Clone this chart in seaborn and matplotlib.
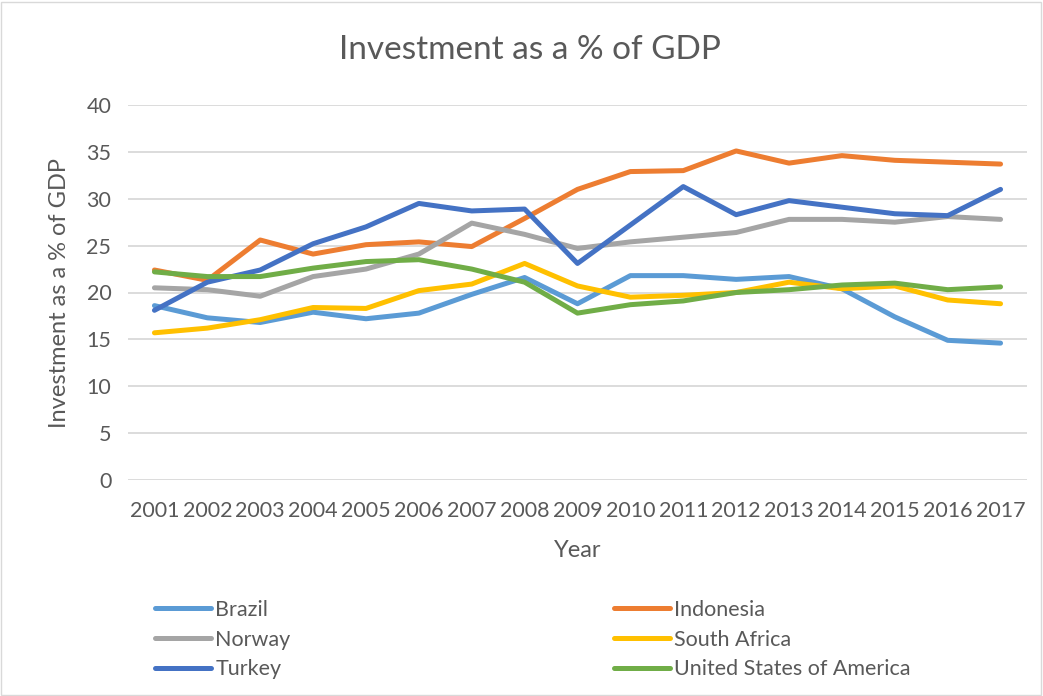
import matplotlib
matplotlib.use("Agg")
import matplotlib.pyplot as plt
import seaborn as sns
import pandas as pd
from matplotlib.lines import Line2D
from matplotlib.patches import Rectangle

years = list(range(2001, 2018))
brazil = [18.6, 17.3, 16.8, 17.9, 17.2, 17.8, 19.8, 21.6, 18.8, 21.8, 21.8, 21.4, 21.7, 20.4, 17.4, 14.9, 14.6]
indonesia = [22.4, 21.3, 25.6, 24.1, 25.1, 25.4, 24.9, 27.9, 31.0, 32.9, 33.0, 35.1, 33.8, 34.6, 34.1, 33.9, 33.7]
norway = [20.5, 20.3, 19.6, 21.7, 22.5, 24.1, 27.4, 26.2, 24.7, 25.4, 25.9, 26.4, 27.8, 27.8, 27.5, 28.1, 27.8]
south_africa = [15.7, 16.2, 17.1, 18.4, 18.3, 20.2, 20.9, 23.1, 20.7, 19.5, 19.7, 20.0, 21.1, 20.4, 20.7, 19.2, 18.8]
turkey = [18.1, 21.1, 22.4, 25.2, 27.0, 29.5, 28.7, 28.9, 23.1, 27.2, 31.3, 28.3, 29.8, 29.1, 28.4, 28.2, 31.0]
usa = [22.2, 21.7, 21.7, 22.6, 23.3, 23.5, 22.5, 21.1, 17.8, 18.7, 19.1, 20.0, 20.3, 20.8, 21.0, 20.3, 20.6]

countries = ["Brazil", "Indonesia", "Norway", "South Africa", "Turkey", "United States of America"]
series = [brazil, indonesia, norway, south_africa, turkey, usa]
colors = ["#5B9BD5", "#ED7D31", "#A5A5A5", "#FFC000", "#4472C4", "#70AD47"]

rows = []
for c, vals in zip(countries, series):
    for y, v in zip(years, vals):
        rows.append({"Year": y, "Value": v, "Country": c})
df = pd.DataFrame(rows)

sns.set_theme(style="white")
plt.rcParams["font.family"] = ["Lato", "DejaVu Sans"]
text_color = "#595959"

fig = plt.figure(figsize=(10.43, 6.96), dpi=100)
ax = fig.add_axes([128/1043, 1-480/696, (1027-128)/1043, (480-105)/696])

palette = dict(zip(countries, colors))
sns.lineplot(data=df, x="Year", y="Value", hue="Country", palette=palette,
             linewidth=3.6, ax=ax, legend=False, solid_capstyle="round")

ax.set_ylim(0, 40)
ax.set_yticks(range(0, 41, 5))
ax.set_xlim(2000.5, 2017.5)
ax.set_xticks(years)
ax.set_xticklabels([str(y) for y in years])
ax.grid(axis="y", color="#d9d9d9", linewidth=1.3)
ax.set_axisbelow(True)
for s in ax.spines.values():
    s.set_visible(False)
ax.tick_params(axis="both", length=0, labelsize=15.5, colors=text_color, pad=12)
ax.tick_params(axis="x", pad=15)
ax.set_xlabel("Year", fontsize=17, color=text_color, labelpad=14)
ax.set_ylabel("Investment as a % of GDP", fontsize=17, color=text_color, labelpad=12)

fig.text(530/1043, 1-50/696, "Investment as a % of GDP", ha="center", va="center",
         fontsize=24, color=text_color)

def handles(names):
    return [Line2D([0], [0], color=palette[n], linewidth=3.6, solid_capstyle="round") for n in names]

col1 = ["Brazil", "Norway", "Turkey"]
col2 = ["Indonesia", "South Africa", "United States of America"]
for names, x0 in ((col1, 155/1043), (col2, 614/1043)):
    leg = fig.legend(handles(names), names, loc="upper left", bbox_to_anchor=(x0, 1-600/696),
                     frameon=False, fontsize=15.5, handlelength=2.6, handletextpad=0.2,
                     labelspacing=0.45, borderaxespad=0, borderpad=0)
    for t in leg.get_texts():
        t.set_color(text_color)

fig.patches.append(Rectangle((1/1043, 1/696), 1040/1043, 693/696, transform=fig.transFigure,
                             fill=False, edgecolor="#d9d9d9", linewidth=1))

fig.savefig("out.png", dpi=100)
